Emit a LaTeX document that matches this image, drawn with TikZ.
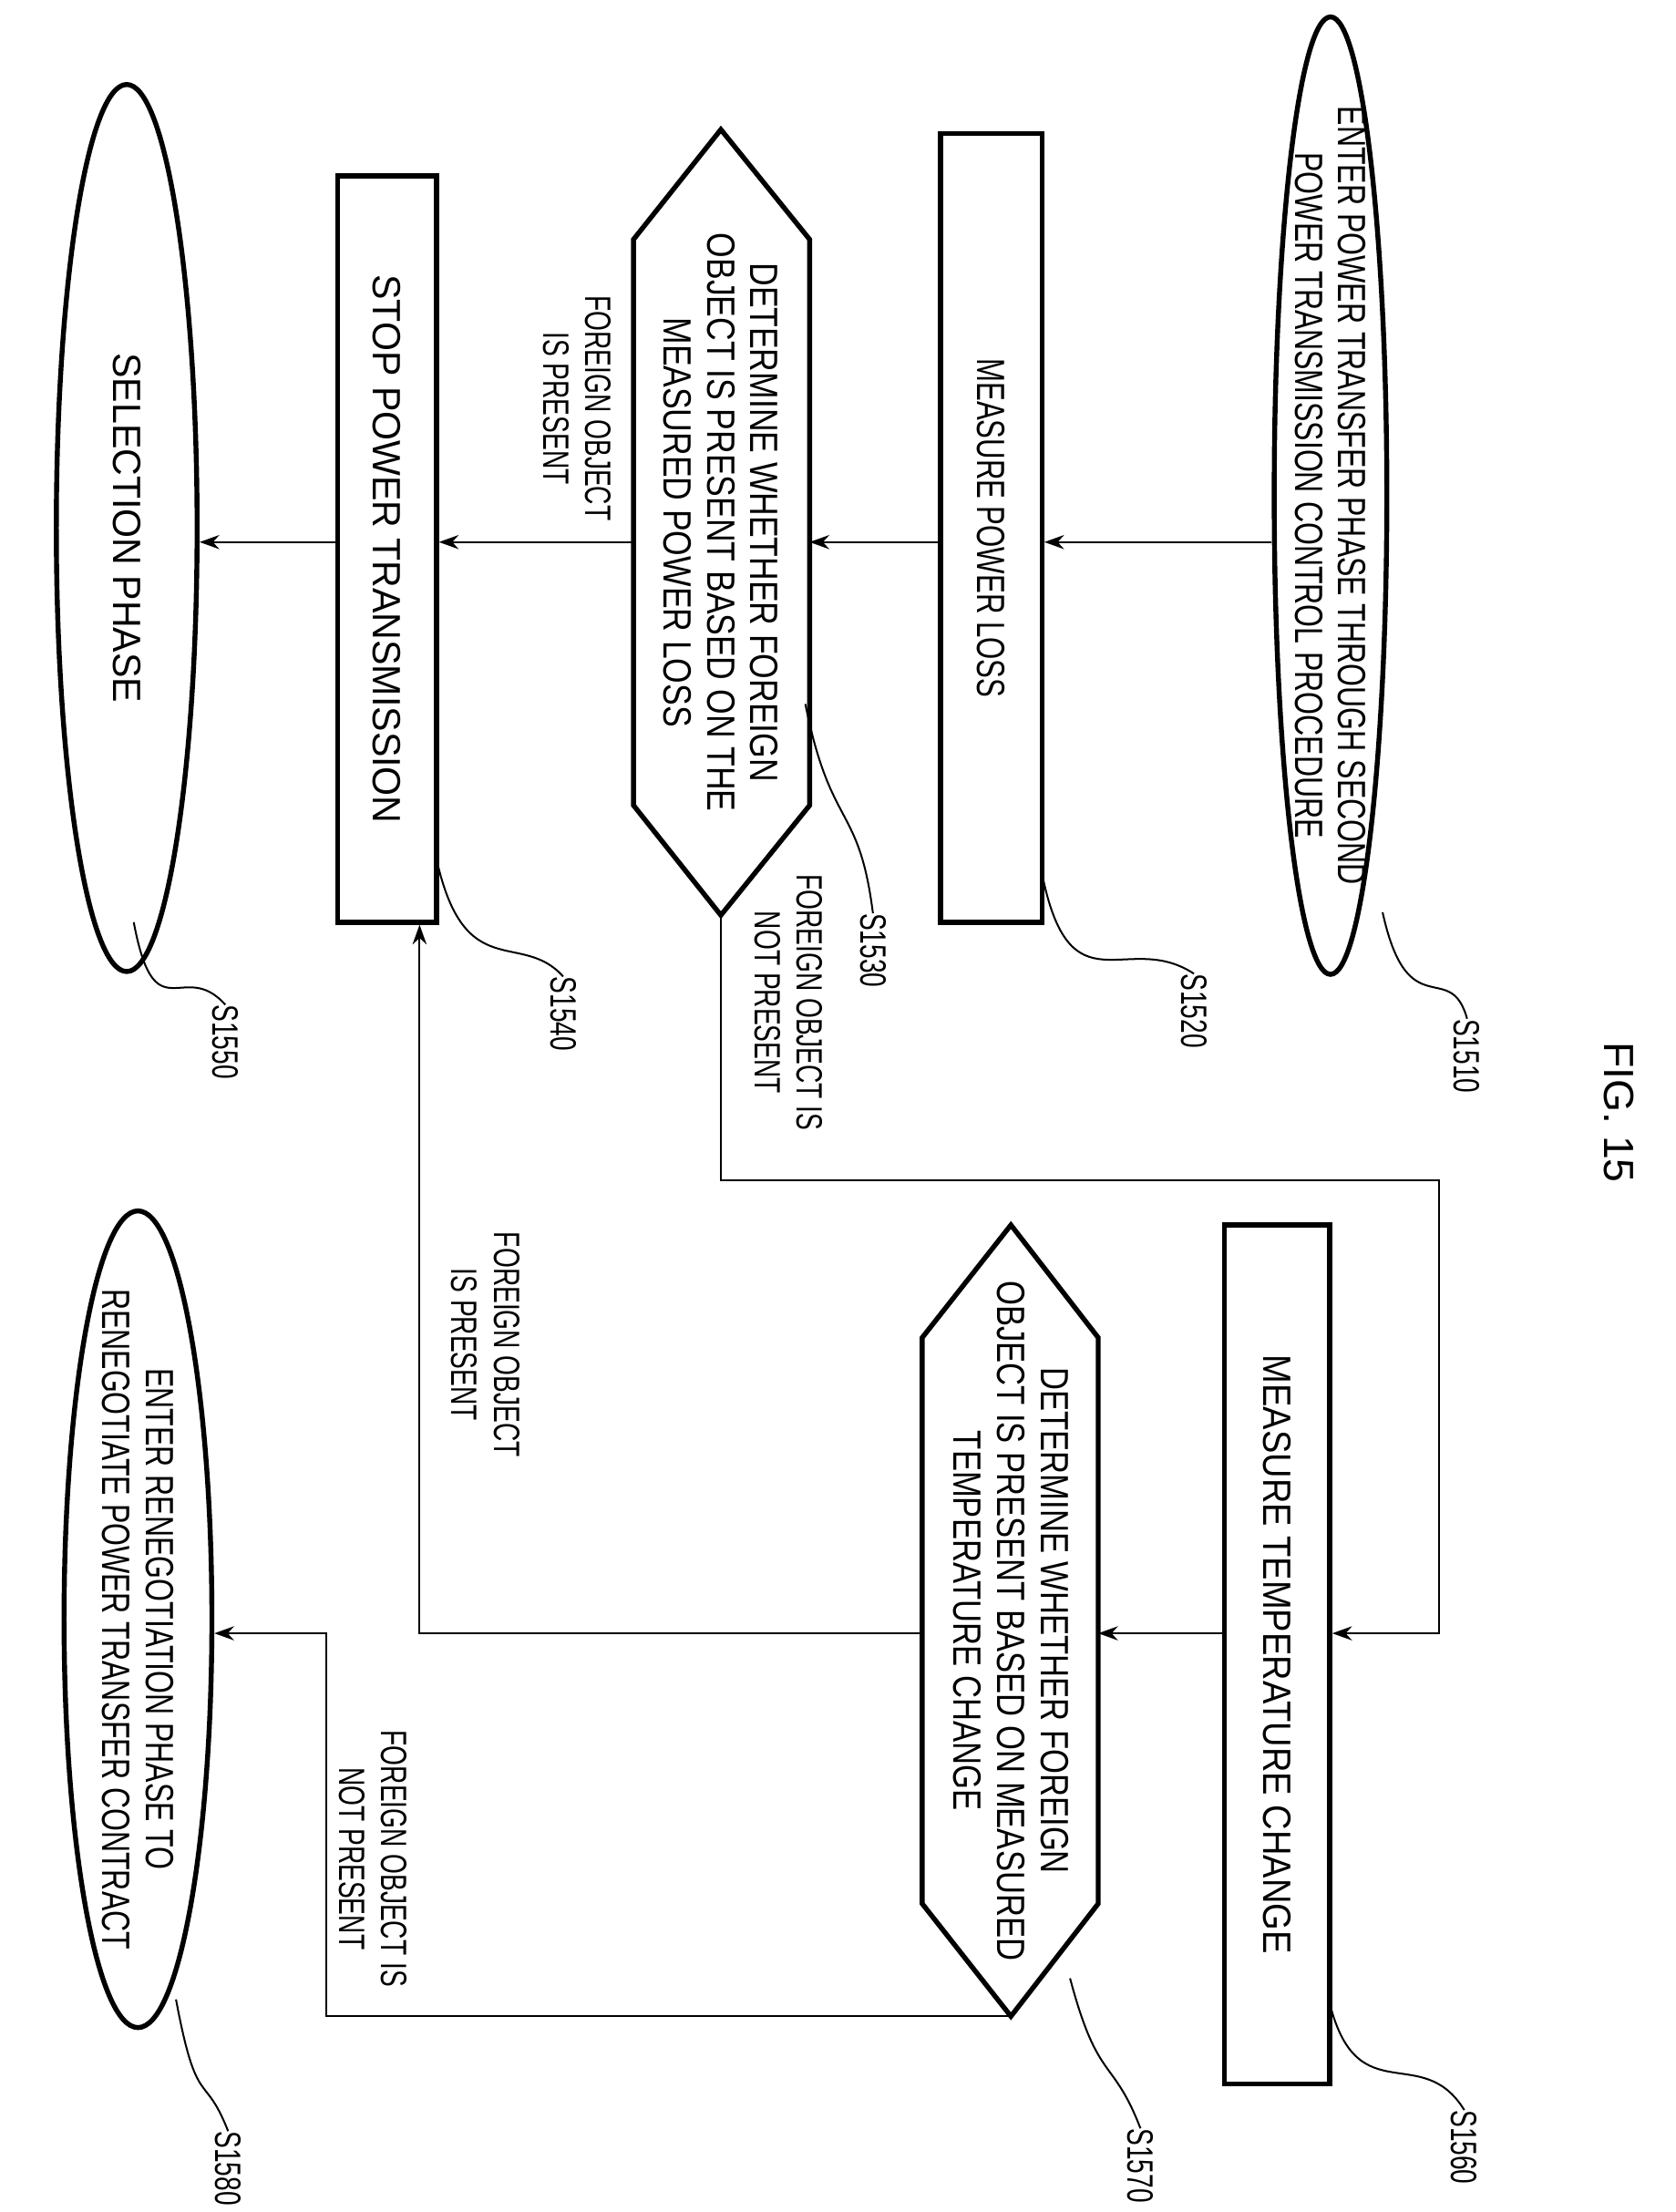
\documentclass[tikz,border=0pt]{standalone}
\usepackage{fontspec}
\setmainfont{Liberation Sans}
\usetikzlibrary{shapes.geometric,arrows.meta}
\begin{document}
\begin{tikzpicture}[x=1pt,y=-1pt,
  box/.style={draw,line width=3.5pt,inner sep=0pt},
  oval/.style={draw,ellipse,line width=3.5pt,inner sep=0pt},
  txt/.style={rotate=-90,xscale=#1,font=\fontsize{28}{31}\selectfont,align=center,inner sep=0pt},
  lab/.style={rotate=-90,xscale=0.7,font=\fontsize{26}{30}\selectfont,align=center,inner sep=0pt},
  sid/.style={rotate=-90,xscale=0.7,font=\fontsize{26}{30}\selectfont,inner sep=0pt},
  con/.style={line width=1.3pt,-{Stealth[length=14pt,width=10pt]}},
  lead/.style={line width=1.3pt}]
\useasboundingbox (0,0) rectangle (1190,1571);
\node[rotate=-90,font=\fontsize{30}{34}\selectfont] (fig) at (1150,790) {FIG. 15};
% shapes
\node[oval,minimum width=80,minimum height=680] (s1510) at (945,352) {};
\node[box,minimum width=72,minimum height=560] (s1520) at (704,375) {};
\coordinate (h1t) at (512,92); \coordinate (h1b) at (512,650);
\draw[line width=3.5pt,line join=miter] (h1t) -- (575,170) -- (575,572) -- (h1b) -- (450,572) -- (450,170) -- cycle;
\node[box,minimum width=70,minimum height=530] (s1540) at (275,390) {};
\node[oval,minimum width=100,minimum height=630] (s1550) at (90,375) {};
\node[box,minimum width=75,minimum height=610] (s1560) at (907,1175) {};
\coordinate (h2t) at (718,870); \coordinate (h2b) at (718,1432);
\draw[line width=3.5pt,line join=miter] (h2t) -- (780,950) -- (780,1352) -- (h2b) -- (655,1352) -- (655,950) -- cycle;
\node[oval,minimum width=105,minimum height=580] (s1580) at (98,1150) {};
% texts
\node[txt=0.74] (t1510) at (s1510.center) {ENTER POWER TRANSFER PHASE THROUGH SECOND\\POWER TRANSMISSION CONTROL PROCEDURE};
\node[txt=0.72] (t1520) at (s1520.center) {MEASURE POWER LOSS};
\node[txt=0.82] (t1530) at (512,371) {DETERMINE WHETHER FOREIGN\\OBJECT IS PRESENT BASED ON THE\\MEASURED POWER LOSS};
\node[txt=0.95] (t1540) at (s1540.center) {STOP POWER TRANSMISSION};
\node[txt=0.95] (t1550) at (s1550.center) {SELECTION PHASE};
\node[txt=0.88] (t1560) at (s1560.center) {MEASURE TEMPERATURE CHANGE};
\node[txt=0.8] (t1570) at (718,1151) {DETERMINE WHETHER FOREIGN\\OBJECT IS PRESENT BASED ON MEASURED\\TEMPERATURE CHANGE};
\node[txt=0.74] (t1580) at (s1580.center) {ENTER RENEGOTIATION PHASE TO\\RENEGOTIATE POWER TRANSFER CONTRACT};
% connectors
\draw[con] (s1510.west |- 0,385) -- (s1520.east |- 0,385);
\draw[con] (s1520.west |- 0,385) -- (575,385);
\draw[con] (450,385) -- (s1540.east |- 0,385);
\draw[con] (s1540.west |- 0,385) -- (s1550.east |- 0,385);
\coordinate (c1) at (512,838); \coordinate (c2) at (1022,838); \coordinate (c3) at (1022,1160);
\draw[con] (h1b) -- (c1) -- (c2) -- (c3) -- (s1560.east |- c3);
\draw[con] (s1560.west |- c3) -- (780,1160);
\coordinate (c4) at (298,1160);
\draw[con] (655,1160) -- (c4) -- (s1540.south -| c4);
\coordinate (c5) at (232,1432); \coordinate (c6) at (232,1160);
\draw[con] (h2b) -- (c5) -- (c6) -- (s1580.east |- c6);
% branch labels
\node[lab] (l1) at (410,290) {FOREIGN OBJECT\\IS PRESENT};
\node[lab] (l2) at (560,712) {FOREIGN OBJECT IS\\NOT PRESENT};
\node[lab] (l3) at (345,955) {FOREIGN OBJECT\\IS PRESENT};
\node[lab] (l4) at (265,1320) {FOREIGN OBJECT IS\\NOT PRESENT};
% step ids
\node[sid] (n1510) at (1042,750) {S1510};
\node[sid] (n1520) at (848,718) {S1520};
\node[sid] (n1530) at (620,675) {S1530};
\node[sid] (n1540) at (400,720) {S1540};
\node[sid] (n1550) at (160,740) {S1550};
\node[sid] (n1560) at (1040,1525) {S1560};
\node[sid] (n1570) at (810,1538) {S1570};
\node[sid] (n1580) at (162,1540) {S1580};
\draw[lead] (982,648) .. controls (1000,730) and (1030,680) .. (n1510.west);
\draw[lead] (740,620) .. controls (760,720) and (800,660) .. (n1520.west);
\draw[lead] (572,500) .. controls (590,590) and (610,570) .. (n1530.west);
\draw[lead] (310,610) .. controls (330,700) and (370,660) .. (n1540.west);
\draw[lead] (95,655) .. controls (110,735) and (130,680) .. (n1550.west);
\draw[lead] (945,1425) .. controls (965,1500) and (1010,1450) .. (n1560.west);
\draw[lead] (760,1405) .. controls (780,1480) and (790,1460) .. (n1570.west);
\draw[lead] (125,1420) .. controls (140,1500) and (145,1470) .. (n1580.west);
\end{tikzpicture}
\end{document}
